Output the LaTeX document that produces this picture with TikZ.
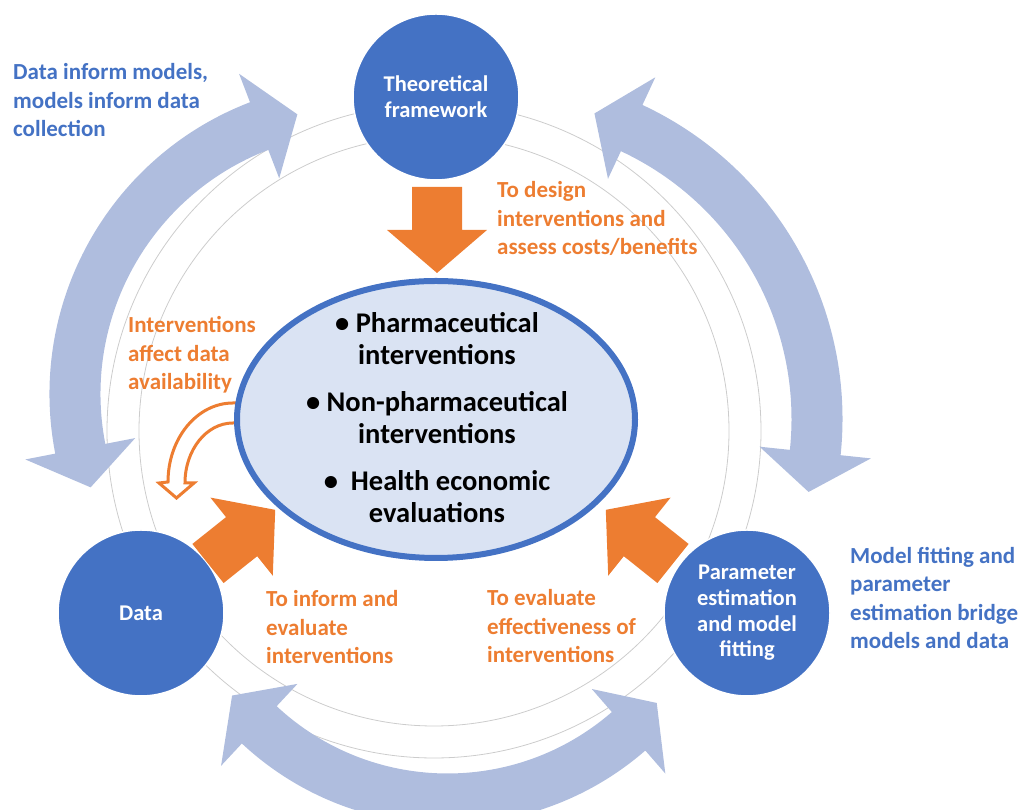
\documentclass[tikz,border=0pt]{standalone}
\usepackage{fontspec}
\setmainfont{Carlito}
\usetikzlibrary{shapes.geometric}

\definecolor{hubblue}{RGB}{68,114,196}
\definecolor{corefill}{RGB}{218,227,243}
\definecolor{loopblue}{RGB}{175,189,222}
\definecolor{pptorange}{RGB}{237,125,49}

% fat ring arrow with a head on both ends: centre x, centre y, radius, start angle, end angle
\newcommand{\cyclearrow}[5]{%
  \begin{scope}[shift={(#1,#2)}]
    \pgfmathsetmacro{\tipang}{deg(40/#3)}
    \fill[loopblue] ({#4}:{#3-25.5}) arc[start angle=#4, end angle=#5, radius={#3-25.5}]
      -- ({#5}:{#3-56}) -- ({#5+\tipang}:{#3}) -- ({#5}:{#3+56})
      -- ({#5}:{#3+25.5}) arc[start angle=#5, end angle=#4, radius={#3+25.5}]
      -- ({#4}:{#3+56}) -- ({#4-\tipang}:{#3}) -- ({#4}:{#3-56}) -- cycle;
  \end{scope}}

\tikzset{
  blockarrow/.pic={
    \fill[pptorange] (0,-25) -- (43,-25) -- (43,-50) -- (86,0) -- (43,50) -- (43,25) -- (0,25) -- cycle;
  }
}

\begin{document}
\begin{tikzpicture}[x=1pt, y=1pt,
    hub/.style={circle, fill=hubblue, draw=white, line width=1.5pt, minimum size=166pt,
      inner sep=0pt, text=white, align=center, font=\bfseries\fontsize{22.5}{25.7}\selectfont},
    note/.style={anchor=base west, align=left, inner sep=0pt,
      font=\bfseries\fontsize{23}{28.6}\selectfont}]
  \useasboundingbox (0,0) rectangle (1026,810);

  % thin guide rings
  \foreach \r in {295,327}
  {
    \draw[black!20, line width=0.8pt] (434,379) circle (\r);
  }

  % big feedback arrows
  \cyclearrow{362}{416}{287}{111}{191}
  \cyclearrow{496}{391}{321}{-6}{65}
  \cyclearrow{447.5}{287}{276}{227}{311}

  % open bent arrow leaving the ellipse
  \draw[pptorange, line width=3pt, fill=white] (245,407) -- (233,407)
    arc[start angle=90, end angle=180, x radius=65, y radius=79]
    -- (159,327) -- (176.5,312) -- (194,327) -- (185,327)
    arc[start angle=180, end angle=90, x radius=48, y radius=60]
    -- (245,387) -- cycle;

  \node[ellipse, draw=hubblue, line width=6pt, fill=corefill, minimum width=398pt,
    minimum height=277pt, inner sep=0pt] (core) at (436,390.5) {};
  \node[align=center, inner sep=0pt, font=\bfseries\fontsize{28.5}{32.5}\selectfont]
    (corelist) at (437,392.5)
    {\textbullet\ Pharmaceutical\\interventions\\[14pt]
     \textbullet\ Non-pharmaceutical\\interventions\\[14pt]
     \textbullet\ \ Health economic\\evaluations};

  \node[hub] (theory) at (436,713) {Theoretical\\framework};
  \node[hub] (data) at (141,197) {Data};
  \node[hub] (fitting) at (747,197) {Parameter\\estimation\\and model\\fitting};

  % orange arrows into the ellipse
  \pic[rotate=-90] at (437,623) {blockarrow};
  \pic[rotate=38.6] at (208,246.5) {blockarrow};
  \pic[rotate=141.4] at (673,246.5) {blockarrow};

  % labels, placed by the baseline of their last line
  \node[note, text=hubblue] (loopnote) at (13,673) {Data inform models,\\models inform data\\collection};
  \node[note, text=hubblue] (bridgenote) at (850,161) {Model fitting and\\parameter\\estimation bridge\\models and data};
  \node[note, text=pptorange] (designnote) at (497,555) {To design\\interventions and\\assess costs/benefits};
  \node[note, text=pptorange] (availnote) at (128,420) {Interventions\\affect data\\availability};
  \node[note, text=pptorange] (informnote) at (266,146) {To inform and\\evaluate\\interventions};
  \node[note, text=pptorange] (effectnote) at (487,147) {To evaluate\\effectiveness of\\interventions};
\end{tikzpicture}
\end{document}
